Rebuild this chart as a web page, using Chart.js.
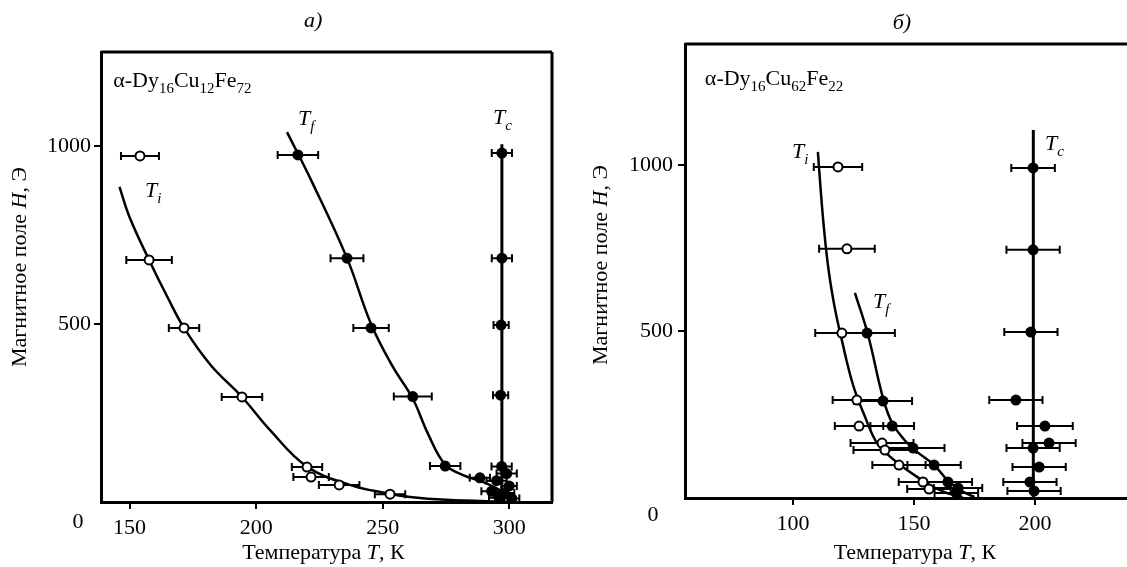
<!DOCTYPE html>
<html lang="ru">
<head>
<meta charset="UTF-8">
<title>Магнитное поле H — температура T</title>
<script src="https://cdn.jsdelivr.net/npm/chart.js@4.4.1/dist/chart.umd.min.js"></script>
<style>
  html, body { margin: 0; padding: 0; background: #fff; }
  .panel { position: absolute; top: 0; height: 567px; }
  #left { left: 0; width: 563px; }
  #right { left: 563px; width: 564px; }
</style>
</head>
<body>
<div class="panel" id="left"><canvas id="chartA" width="563" height="567"></canvas></div>
<div class="panel" id="right"><canvas id="chartB" width="564" height="567"></canvas></div>

<script>
const FONT = 'Liberation Serif';

// а) α-Dy16Cu12Fe72
const xTicksA = [150, 200, 250, 300];
const yTicksA = [500, 1000];
const tiTA = [154.1, 157.7, 171.5, 194.4, 220.1, 221.7, 232.8, 252.9];
const tiHA = [972, 680, 489, 295, 98, 70, 48, 22];
const tiErrA = [7.5, 9, 6, 8, 6, 7, 8, 6];
const tfTA = [216.5, 235.9, 245.4, 261.9, 274.7, 288.4];
const tfHA = [975, 685, 489, 296, 101, 68];
const tfErrA = [8, 6.5, 7, 7.5, 6, 4];
const tcTA = [297.1, 297.1, 296.8, 296.6, 297, 299, 295, 300, 293, 298, 296, 301];
const tcHA = [980, 685, 497, 300, 100, 80, 60, 45, 30, 25, 12, 10];
const tcErrA = [4, 4, 3, 3, 4, 4, 4, 3, 4, 4, 4, 3];
const tiCurveTA = [146, 150, 157.7, 165, 171.5, 182, 194.4, 205.5, 220, 237, 252, 260.8, 275, 300];
const tiCurveHA = [885, 800, 680, 575, 489, 385, 295, 202, 100, 48, 24, 14, 6, 0];
const tfCurveTA = [212.2, 222, 235.9, 245.4, 254, 261.9, 268, 274.7, 282, 290, 297, 300];
const tfCurveHA = [1039, 900, 685, 500, 380, 290, 190, 105, 75, 55, 30, 10];
const tcLineTA = [297.1, 297.1];
const tcLineHA = [0, 1005];

// б) α-Dy16Cu62Fe22
const xTicksB = [100, 150, 200];
const yTicksB = [500, 1000];
const tiTB = [118.6, 122.3, 120.2, 126.4, 127.3, 136.8, 138.0, 143.8, 153.7, 156.2];
const tiHB = [994, 748, 495, 294, 216, 165, 144, 99, 48, 27];
const tiErrB = [10, 11.5, 11, 10, 10, 13, 13, 11, 10, 9];
const tfTB = [130.6, 137.2, 141.0, 149.6, 158.3, 164.0, 168.2, 167.5];
const tfHB = [495, 291, 216, 150, 99, 48, 30, 15];
const tfErrB = [11.5, 12, 9, 13, 11, 10, 10, 9];
const tcTB = [199.2, 199.2, 198.3, 192.1, 204.1, 205.8, 199.2, 201.7, 197.9, 199.6];
const tcHB = [991, 745, 498, 294, 216, 165, 150, 93, 48, 21];
const tcErrB = [9, 11, 11, 11, 11.5, 11, 11, 11, 11, 11];
const tiCurveTB = [110.3, 111.3, 112.8, 114.8, 117.3, 120, 124.8, 129.8, 134.7, 140, 146, 152, 158, 164, 170];
const tiCurveHB = [1039, 940, 810, 680, 570, 480, 340, 243, 165, 125, 90, 60, 33, 14, 3];
const tfCurveTB = [125.6, 131, 137.2, 141, 146, 151, 158.3, 164, 170, 175];
const tfCurveHB = [616, 490, 300, 225, 175, 140, 99, 52, 20, 3];
const tcLineTB = [199.3, 199.3];
const tcLineHB = [0, 1105];

const pts = (xs, ys) => xs.map((x, i) => ({ x, y: ys[i] }));

// text with italics and subscripts
const drawRich = (ctx, x, y, parts, size, align) => {
    const sub = Math.round(size * 0.68);
    const fontOf = p => `${p[1].includes('i') ? 'italic ' : ''}${p[1].includes('s') ? sub : size}px "${FONT}"`;
    let w = 0;
    parts.forEach(p => { ctx.font = fontOf(p); w += ctx.measureText(p[0]).width; });
    let cx = align === 'center' ? x - w / 2 : x;
    parts.forEach(p => {
        ctx.font = fontOf(p);
        ctx.fillText(p[0], cx, p[1].includes('s') ? y + size * 0.28 : y);
        cx += ctx.measureText(p[0]).width;
    });
};

const errorBars = {
    id: 'errorBars',
    beforeDatasetsDraw(chart) {
        const { ctx, scales: { x, y } } = chart;
        ctx.save();
        ctx.strokeStyle = '#000';
        ctx.lineWidth = 2;
        chart.data.datasets.forEach(ds => {
            if (!ds.xErr) return;
            ds.data.forEach((p, i) => {
                const x1 = x.getPixelForValue(p.x - ds.xErr[i]);
                const x2 = x.getPixelForValue(p.x + ds.xErr[i]);
                const py = y.getPixelForValue(p.y);
                ctx.beginPath();
                ctx.moveTo(x1, py); ctx.lineTo(x2, py);
                ctx.moveTo(x1, py - 4); ctx.lineTo(x1, py + 4);
                ctx.moveTo(x2, py - 4); ctx.lineTo(x2, py + 4);
                ctx.stroke();
            });
        });
        ctx.restore();
    }
};

const notes = {
    id: 'notes',
    afterDraw(chart, args, o) {
        const { ctx, chartArea: a, scales: { x, y } } = chart;
        ctx.save();
        ctx.fillStyle = '#000';
        ctx.strokeStyle = '#000';
        ctx.lineWidth = 3;
        // frame
        ctx.beginPath();
        ctx.moveTo(a.left, a.top); ctx.lineTo(a.right, a.top);
        if (o.rightBorder) { ctx.moveTo(a.right, a.top); ctx.lineTo(a.right, a.bottom); }
        ctx.stroke();

        ctx.textBaseline = 'alphabetic';
        drawRich(ctx, x.getPixelForValue(o.panel.x), o.panel.yPx, [[o.panel.text, 'i']], 22, 'center');
        o.labels.forEach(l => drawRich(ctx, x.getPixelForValue(l.x), y.getPixelForValue(l.y), l.parts, 22, 'left'));

        ctx.textBaseline = 'middle';
        drawRich(ctx, a.left + o.zero.dx, y.getPixelForValue(0) + o.zero.dy, [['0', '']], 22, 'center');
        drawRich(ctx, (a.left + a.right) / 2 + o.xTitle.dx, o.xTitle.yPx,
            [['Температура ', ''], ['T', 'i'], [', К', '']], 22, 'center');
        ctx.translate(o.yTitle.xPx, o.yTitle.yPx);
        ctx.rotate(-Math.PI / 2);
        drawRich(ctx, 0, 0, [['Магнитное поле ', ''], ['H', 'i'], [', Э', '']], 22, 'center');
        ctx.restore();
    }
};

const makeChart = (id, c) => {
    new Chart(document.getElementById(id), {
        type: 'scatter',
        data: {
            datasets: [
                { data: pts(c.tiT, c.tiH), xErr: c.tiErr, pointRadius: 4.5, pointBorderWidth: 2,
                  pointBackgroundColor: '#fff', pointBorderColor: '#000', order: 0 },
                { data: pts(c.tfT, c.tfH), xErr: c.tfErr, pointRadius: 5.5, pointBorderWidth: 0,
                  pointBackgroundColor: '#000', order: 0 },
                { data: pts(c.tcT, c.tcH), xErr: c.tcErr, pointRadius: 5.5, pointBorderWidth: 0,
                  pointBackgroundColor: '#000', order: 0 },
                { data: pts(c.tiCurveT, c.tiCurveH), showLine: true, pointRadius: 0, borderColor: '#000',
                  borderWidth: 2.5, tension: 0.4, order: 2 },
                { data: pts(c.tfCurveT, c.tfCurveH), showLine: true, pointRadius: 0, borderColor: '#000',
                  borderWidth: 2.5, tension: 0.4, order: 2 },
                { data: pts(c.tcLineT, c.tcLineH), showLine: true, pointRadius: 0, borderColor: '#000',
                  borderWidth: 3, order: 2 }
            ]
        },
        options: {
            responsive: false,
            animation: false,
            layout: { padding: c.padding, autoPadding: false },
            plugins: { legend: { display: false }, tooltip: { enabled: false }, notes: c.notes },
            scales: {
                x: {
                    type: 'linear', min: c.xMin, max: c.xMax,
                    afterBuildTicks: s => { s.ticks = c.xTicks.map(v => ({ value: v })); },
                    afterFit: s => { s.height = c.xHeight; },
                    ticks: { color: '#000', font: { family: FONT, size: 22 }, padding: 6, callback: v => String(v) },
                    grid: { drawOnChartArea: false, color: '#000', lineWidth: 2, tickLength: 7 },
                    border: { display: true, color: '#000', width: 3 }
                },
                y: {
                    type: 'linear', min: 0, max: c.yMax,
                    afterBuildTicks: s => { s.ticks = c.yTicks.map(v => ({ value: v })); },
                    afterFit: s => { s.width = c.yWidth; },
                    ticks: { color: '#000', font: { family: FONT, size: 22 }, padding: c.yPad, callback: v => String(v) },
                    grid: { drawOnChartArea: false, color: '#000', lineWidth: 2, tickLength: 7 },
                    border: { display: true, color: '#000', width: 3 }
                }
            }
        },
        plugins: [errorBars, notes]
    });
};

makeChart('chartA', {
    tiT: tiTA, tiH: tiHA, tiErr: tiErrA, tfT: tfTA, tfH: tfHA, tfErr: tfErrA,
    tcT: tcTA, tcH: tcHA, tcErr: tcErrA,
    tiCurveT: tiCurveTA, tiCurveH: tiCurveHA, tfCurveT: tfCurveTA, tfCurveH: tfCurveHA,
    tcLineT: tcLineTA, tcLineH: tcLineHA,
    xTicks: xTicksA, yTicks: yTicksA, xMin: 138.7, xMax: 316.9, yMax: 1264,
    padding: { left: 0, top: 52, right: 11, bottom: 0 }, xHeight: 65, yWidth: 101, yPad: 3,
    notes: {
        rightBorder: true,
        panel: { text: 'а)', x: 222.5, yPx: 27 },
        labels: [
            { x: 143.5, y: 1166, parts: [['α-Dy', ''], ['16', 's'], ['Cu', ''], ['12', 's'], ['Fe', ''], ['72', 's']] },
            { x: 156.1, y: 857, parts: [['T', 'i'], ['i', 'si']] },
            { x: 216.5, y: 1059, parts: [['T', 'i'], ['f', 'si']] },
            { x: 293.6, y: 1062, parts: [['T', 'i'], ['c', 'si']] }
        ],
        zero: { dx: -23, dy: 20 },
        xTitle: { dx: -3, yPx: 553 },
        yTitle: { xPx: 20, yPx: 267 }
    }
});

makeChart('chartB', {
    tiT: tiTB, tiH: tiHB, tiErr: tiErrB, tfT: tfTB, tfH: tfHB, tfErr: tfErrB,
    tcT: tcTB, tcH: tcHB, tcErr: tcErrB,
    tiCurveT: tiCurveTB, tiCurveH: tiCurveHB, tfCurveT: tfCurveTB, tfCurveH: tfCurveHB,
    tcLineT: tcLineTB, tcLineH: tcLineHB,
    xTicks: xTicksB, yTicks: yTicksB, xMin: 55.4, xMax: 238, yMax: 1363,
    padding: { left: 0, top: 44, right: 0, bottom: 0 }, xHeight: 69, yWidth: 122, yPad: 5,
    notes: {
        rightBorder: false,
        panel: { text: 'б)', x: 145, yPx: 29 },
        labels: [
            { x: 63.6, y: 1240, parts: [['α-Dy', ''], ['16', 's'], ['Cu', ''], ['62', 's'], ['Fe', ''], ['22', 's']] },
            { x: 99.6, y: 1021, parts: [['T', 'i'], ['i', 'si']] },
            { x: 133.1, y: 571, parts: [['T', 'i'], ['f', 'si']] },
            { x: 204.1, y: 1045, parts: [['T', 'i'], ['c', 'si']] }
        ],
        zero: { dx: -32, dy: 17 },
        xTitle: { dx: 9, yPx: 553 },
        yTitle: { xPx: 38, yPx: 265 }
    }
});
</script>
</body>
</html>
